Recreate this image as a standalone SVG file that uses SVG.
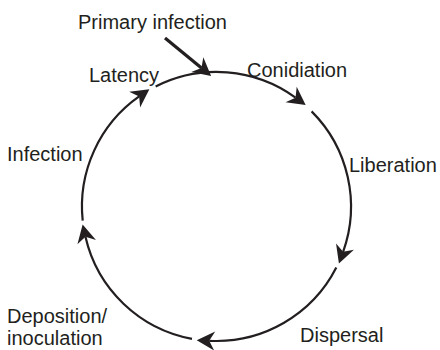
<svg xmlns="http://www.w3.org/2000/svg" width="440" height="350" viewBox="0 0 440 350">
<style>
  text { font-family: "Liberation Sans", Arial, sans-serif; font-size: 20px; fill: #231f20; }
  .arc { fill: none; stroke: #231f20; stroke-width: 2.2; marker-end: url(#head); }
  .pri { fill: none; stroke: #231f20; stroke-width: 3.2; marker-end: url(#head); }
</style>
<defs>
  <marker id="head" markerUnits="userSpaceOnUse" markerWidth="20" markerHeight="20" refX="5" refY="0" orient="auto" overflow="visible">
    <path d="M17.5,0 L-0.5,-9.5 L5,0 L-0.5,9.5 Z" fill="#231f20"/>
  </marker>
</defs>
<g id="connectors">
  <path class="arc" d="M155.65,86.55 A134.5,134.5 0 0 1 295.56,97.69"/>
  <path class="arc" d="M311.6,111.4 A134.5,134.5 0 0 1 343.13,251.84"/>
  <path class="arc" d="M336.3,267.6 A134.5,134.5 0 0 1 209.22,340.8"/>
  <path class="arc" d="M192.0,338.8 A134.5,134.5 0 0 1 85.45,236.76"/>
  <path class="arc" d="M82.7,220.6 A134.5,134.5 0 0 1 139.16,96.47"/>
  <path class="pri" d="M165,38 L201.5,68.1"/>
</g>
<g id="primary-infection"><text x="78" y="29">Primary infection</text></g>
<g id="latency"><text x="89" y="82">Latency</text></g>
<g id="conidiation"><text x="247" y="77">Conidiation</text></g>
<g id="liberation"><text x="349" y="172">Liberation</text></g>
<g id="infection"><text x="7" y="161">Infection</text></g>
<g id="deposition"><text x="7" y="323">Deposition/</text><text x="7" y="345">inoculation</text></g>
<g id="dispersal"><text x="300" y="342">Dispersal</text></g>
</svg>
